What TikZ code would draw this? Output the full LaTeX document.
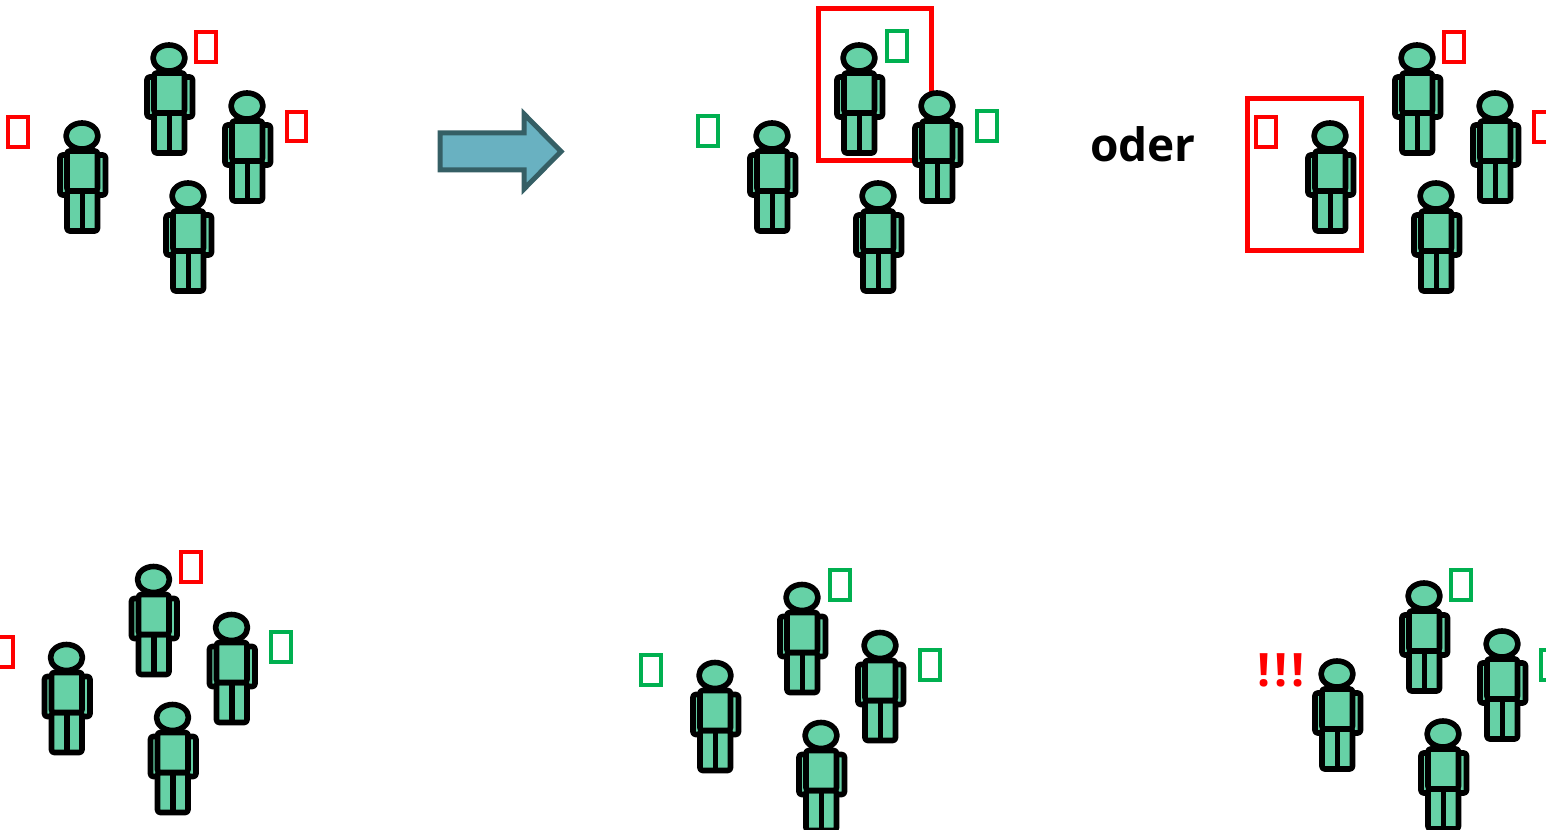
\documentclass[tikz,border=0pt]{standalone}
\usepackage{fontspec}
\setmainfont{Open Sans}

\definecolor{skin}{HTML}{66D1A6}
\definecolor{goodgreen}{HTML}{00B050}
\definecolor{arrowfill}{HTML}{69B1C1}
\definecolor{arrowline}{HTML}{355F65}

\tikzset{
    person/.pic={
        \begin{scope}[draw=black,fill=skin,line width=4.2pt,line join=round]
            \draw[fill=skin,rounded corners=2pt] (-22,19) rectangle (23.5,59);
            \draw[fill=skin,rounded corners=2pt] (-15,55) rectangle (15.5,95);
            \draw (0.5,55) -- (0.5,95);
            \draw[fill=skin,rounded corners=2pt] (-15,15) rectangle (15.5,55);
            \draw[fill=skin] (0,0) ellipse (16 and 13);
        \end{scope}
    },
    crowd/.pic={
        \pic at (169,58) {person};
        \pic at (247,106) {person};
        \pic at (82,136) {person};
        \pic at (188,196) {person};
    },
    missbad/.style={draw=red,line width=2.8pt,minimum width=14.6pt,minimum height=22pt,inner sep=0pt},
    missgood/.style={missbad,draw=goodgreen},
    framebox/.style={draw=red,line width=3.75pt}
}

\begin{document}
\begin{tikzpicture}[x=0.75pt,y=-0.75pt]
\useasboundingbox (0,0) rectangle (1546,830);

\draw[framebox] (818.5,9) rectangle (931,161);
\draw[framebox] (1247.5,98.5) rectangle (1361,250.5);

\pic at (0,0) {crowd};
\pic at (690,0) {crowd};
\pic at (1248,0) {crowd};
\pic at (-15.5,521.5) {crowd};
\pic at (633,539.5) {crowd};
\pic at (1255,538) {crowd};

\begin{scope}[every node/.style={missbad}]
    \node (top_a) at (206,47) {};
    \node (top_b) at (296.5,126.5) {};
    \node (top_c) at (18,132) {};
    \node (mid_b) at (1454,47) {};
    \node (mid_c) at (1544,127) {};
    \node (mid_d) at (1266,132) {};
    \node (low_a) at (191,567) {};
    \node (low_c) at (3,652) {};
\end{scope}

\begin{scope}[every node/.style={missgood}]
    \node (pick_a) at (897,46) {};
    \node (pick_b) at (987,126) {};
    \node (pick_c) at (708,131) {};
    \node (low_b) at (281,647) {};
    \node (all_a) at (840,585) {};
    \node (all_b) at (930,665) {};
    \node (all_c) at (651,670) {};
    \node (warn_a) at (1461,585) {};
    \node (warn_b) at (1551,665) {};
\end{scope}

\draw[line width=3.75pt,draw=arrowline,fill=arrowfill,miter limit=10]
    (440,133) -- (524,133) -- (524,114) -- (561,151.5) -- (524,189) -- (524,170) -- (440,170) -- cycle;

\node[font=\bfseries] (oder) at (1143,144) {\fontsize{34.5pt}{34.5pt}\selectfont oder};
\node[font=\bfseries,text=red] (warn) at (1281,670) {\fontsize{34.5pt}{34.5pt}\selectfont\addfontfeature{LetterSpace=9} !!!};
\end{tikzpicture}
\end{document}
